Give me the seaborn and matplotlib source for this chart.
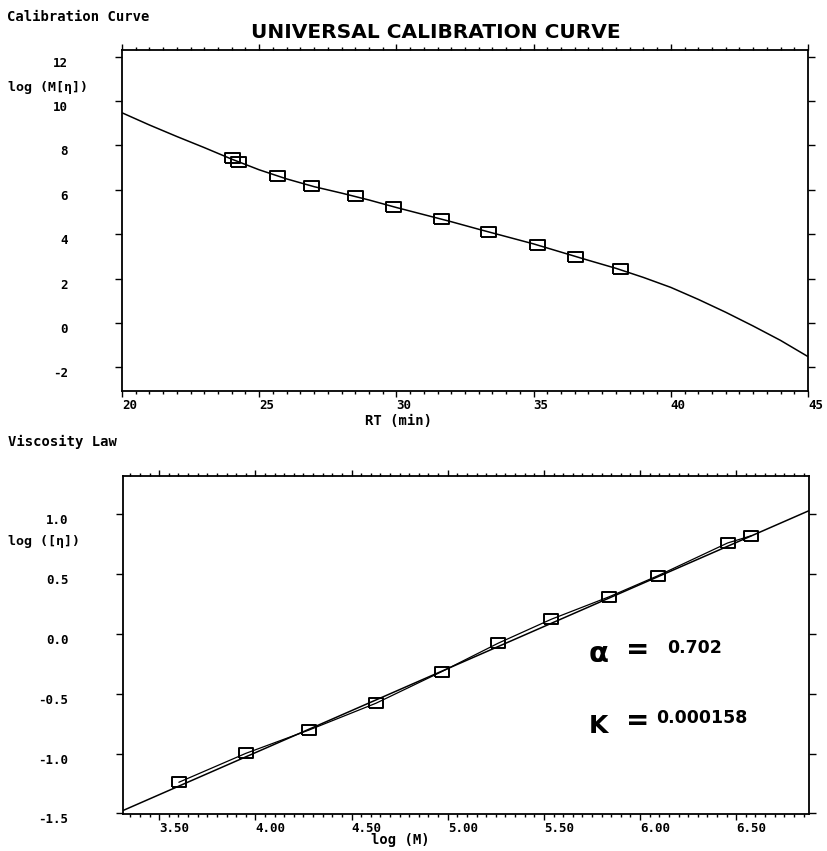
import matplotlib
matplotlib.use("Agg")
import matplotlib.pyplot as plt
from matplotlib.ticker import MultipleLocator
import seaborn as sns

# ---------------- data ----------------
# Universal calibration curve: data points
cal_rt = [24.00, 24.24, 25.66, 26.89, 28.49, 29.89, 31.61, 33.35, 35.13, 36.51, 38.15]
cal_logMeta = [7.42, 7.24, 6.61, 6.18, 5.71, 5.24, 4.69, 4.10, 3.52, 2.99, 2.41]
# fitted calibration curve
curve_rt = [20, 21, 22, 23, 24, 25, 26, 27, 28, 29, 30, 31, 32, 33, 34, 35, 36, 37, 38, 39, 40, 41, 42, 43, 44, 45]
curve_val = [9.47, 8.92, 8.40, 7.90, 7.38, 6.90, 6.49, 6.14, 5.85, 5.54, 5.20, 4.88, 4.56, 4.22, 3.89,
             3.56, 3.19, 2.82, 2.46, 2.05, 1.60, 1.06, 0.48, -0.14, -0.79, -1.52]

# Viscosity law: data points
vis_logM = [3.602, 3.951, 4.280, 4.627, 4.969, 5.262, 5.538, 5.841, 6.093, 6.455, 6.579]
vis_logeta = [-1.240, -0.998, -0.803, -0.580, -0.316, -0.079, 0.121, 0.310, 0.485, 0.758, 0.819]
# fitted straight line (end points read at the axis edges)
fit_logM = [3.31, 6.88]
fit_logeta = [-1.477, 1.029]

alpha_txt = "0.702"
k_txt = "0.000158"

top_xticks = [20, 25, 30, 35, 40, 45]
top_xticklabels = ["20", "25", "30", "35", "40", "45"]
top_yticks = [-2, 0, 2, 4, 6, 8, 10, 12]
top_yticklabels = ["-2", "0", "2", "4", "6", "8", "10", "12"]
bot_xticks = [3.5, 4.0, 4.5, 5.0, 5.5, 6.0, 6.5]
bot_xticklabels = ["3.50", "4.00", "4.50", "5.00", "5.50", "6.00", "6.50"]
bot_yticks = [-1.5, -1.0, -0.5, 0.0, 0.5, 1.0]
bot_yticklabels = ["-1.5", "-1.0", "-0.5", "0.0", "0.5", "1.0"]

# ---------------- style ----------------
sns.set_theme(style="white")
plt.rcParams["font.family"] = ["DejaVu Sans Mono", "DejaVu Sans"]
plt.rcParams["text.color"] = "black"
plt.rcParams["xtick.color"] = "black"
plt.rcParams["ytick.color"] = "black"
plt.rcParams["xtick.labelcolor"] = "black"
plt.rcParams["ytick.labelcolor"] = "black"
plt.rcParams["axes.edgecolor"] = "black"
plt.rcParams["axes.linewidth"] = 1.2

W, H = 828, 851
fig = plt.figure(figsize=(W / 100, H / 100), dpi=100)


def fx(px):
    return px / W


def fy(py):
    return 1 - py / H


def rect(l, t, r, b):
    return [fx(l), fy(b), (r - l) / W, (b - t) / H]


mono = dict(family=["DejaVu Sans Mono", "DejaVu Sans"], weight="bold", color="black")
tick_fs = 9


def style_axes(ax, xticks, xlabels, yticks, ylabels, xminor):
    ax.set_xticks(xticks)
    ax.set_xticklabels(xlabels, fontsize=tick_fs, fontweight="bold", ha="left")
    ax.set_yticks(yticks)
    ax.set_yticklabels(ylabels, fontsize=tick_fs, fontweight="bold", va="top")
    ax.xaxis.set_minor_locator(MultipleLocator(xminor))
    ax.tick_params(axis="both", which="both", direction="out", colors="black",
                   labelcolor="black",
                   top=True, right=True, bottom=True, left=True,
                   labeltop=False, labelright=False)
    ax.tick_params(axis="x", which="major", length=4.5, width=1.0, pad=1.5)
    ax.tick_params(axis="x", which="minor", length=2.5, width=1.0)
    ax.tick_params(axis="y", which="major", length=5, width=1.0, pad=34)
    for lab in ax.get_yticklabels():
        lab.set_ha("right")
    for sp in ax.spines.values():
        sp.set_visible(True)
        sp.set_color("black")
        sp.set_linewidth(1.3)
    ax.set_xlabel("")
    ax.set_ylabel("")
    ax.grid(False)


def rect_marker(ratio):
    return [(-ratio, -1), (ratio, -1), (ratio, 1), (-ratio, 1), (-ratio, -1)]


# ---------------- top: universal calibration curve ----------------
ax1 = fig.add_axes(rect(122, 50, 808, 391))
sns.lineplot(x=curve_rt, y=curve_val, ax=ax1, color="black", linewidth=1.1,
             sort=False, estimator=None)
sns.lineplot(x=cal_rt, y=cal_logMeta, ax=ax1, color="black", linestyle="none",
             marker=rect_marker(1.5), markersize=10.8, markerfacecolor="none",
             markeredgecolor="black", markeredgewidth=1.4, sort=False, estimator=None)
ax1.set_xlim(20, 45)
ax1.set_ylim(-3.07, 12.3)
style_axes(ax1, top_xticks, top_xticklabels, top_yticks, top_yticklabels, 0.5)

# ---------------- bottom: viscosity law ----------------
ax2 = fig.add_axes(rect(122.7, 475.7, 809.3, 814))
sns.lineplot(x=fit_logM, y=fit_logeta, ax=ax2, color="black", linewidth=1.1,
             sort=False, estimator=None)
sns.lineplot(x=vis_logM, y=vis_logeta, ax=ax2, color="black", linewidth=0.9,
             marker=rect_marker(1.3), markersize=9.6, markerfacecolor="none",
             markeredgecolor="black", markeredgewidth=1.4, sort=False, estimator=None)
ax2.set_xlim(3.31, 6.88)
ax2.set_ylim(-1.505, 1.32)
style_axes(ax2, bot_xticks, bot_xticklabels, bot_yticks, bot_yticklabels, 0.05)

# ---------------- texts ----------------
fig.text(fx(7), fy(17), "Calibration Curve", fontsize=10, ha="left", va="center", **mono)
fig.text(fx(436), fy(32), "UNIVERSAL CALIBRATION CURVE", fontsize=14.5, ha="center",
         va="center", family="DejaVu Sans", weight="bold", color="black")
fig.text(fx(8), fy(87), "log (M[η])", fontsize=9.5, ha="left", va="center", **mono)
fig.text(fx(399), fy(421), "RT (min)", fontsize=10, ha="center", va="center", **mono)

fig.text(fx(8), fy(442), "Viscosity Law", fontsize=10, ha="left", va="center", **mono)
fig.text(fx(8), fy(542), "log ([η])", fontsize=9.5, ha="left", va="center", **mono)
fig.text(fx(400), fy(840), "log (M)", fontsize=10, ha="center", va="center", **mono)

bold = dict(family="DejaVu Sans", weight="bold", color="black")
fig.text(fx(589), fy(654), "α", fontsize=21, ha="left", va="center", **bold)
fig.text(fx(626), fy(650), "=", fontsize=20, ha="left", va="center", **bold)
fig.text(fx(667), fy(648), alpha_txt, fontsize=12.5, ha="left", va="center", **bold)
fig.text(fx(589), fy(726), "K", fontsize=18, ha="left", va="center", **bold)
fig.text(fx(626), fy(721), "=", fontsize=20, ha="left", va="center", **bold)
fig.text(fx(656), fy(718), k_txt, fontsize=12.5, ha="left", va="center", **bold)

fig.savefig("out.png", dpi=100)
